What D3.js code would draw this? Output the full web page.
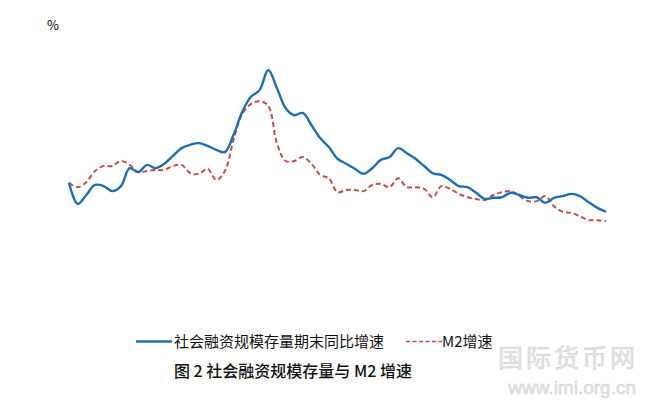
<!DOCTYPE html>
<html>
<head>
<meta charset="utf-8">
<script src="https://cdn.jsdelivr.net/npm/d3@7/dist/d3.min.js"></script>
<style>
  html, body { margin: 0; padding: 0; background: #fff; }
  svg { display: block; }
</style>
</head>
<body>
<svg id="chart" width="645" height="400"></svg>
<script>
// Series values (%), sampled at equal time steps across the chart
const tsfGrowth = [15.1, 11.3, 12.9, 14.7, 14.5, 13.6, 14.5, 17.7, 17.0, 18.3,
  17.7, 18.5, 19.9, 21.3, 21.9, 22.2, 21.7, 21.0, 20.6, 23.7,
  27.8, 30.5, 31.7, 35.3, 32.1, 28.5, 27.2, 27.6, 25.4, 23.1,
  21.5, 19.4, 18.5, 17.6, 16.7, 17.7, 19.2, 19.7, 21.3, 20.4,
  19.4, 18.1, 16.8, 16.5, 15.6, 14.5, 14.3, 13.3, 12.2, 12.4,
  12.5, 13.3, 12.9, 12.4, 12.5, 11.5, 12.4, 12.7, 13.1, 12.7,
  11.6, 10.6, 9.9];
const m2Growth = [15.1, 14.3, 15.2, 17.2, 18.1, 18.1, 19.0, 18.3, 17.0, 17.2,
  17.4, 17.4, 18.1, 18.3, 16.8, 16.7, 17.6, 15.6, 17.2, 22.8,
  27.4, 29.2, 29.7, 28.9, 22.2, 19.0, 19.0, 19.7, 18.5, 16.5,
  15.9, 13.4, 13.8, 13.8, 13.6, 14.7, 14.9, 14.3, 15.9, 14.3,
  14.3, 14.0, 12.5, 14.5, 14.0, 13.1, 12.5, 12.2, 12.0, 12.9,
  13.4, 13.6, 12.7, 11.8, 11.8, 12.7, 10.9, 9.9, 9.7, 9.1,
  8.4, 8.4, 8.2];
const seriesNames = ["社会融资规模存量期末同比增速", "M2增速"];
const seriesColors = ["#1f6fb0", "#c0504d"];
const unitLabel = "%";
const chartTitle = "图 2 社会融资规模存量与 M2 增速";

const svg = d3.select("#chart");
const font = "'Noto Sans CJK SC', 'Noto Sans', sans-serif";

const x = d3.scaleLinear().domain([0, tsfGrowth.length - 1]).range([69, 606]);
const y = d3.scaleLinear().domain([0, 40]).range([267, 43.8]);

const line = d3.line()
  .x((d, i) => x(i))
  .y(d => y(d))
  .curve(d3.curveCatmullRom.alpha(0.5));

// Watermark (behind)
const wm = svg.append("g").attr("fill", "#e6e6e6").attr("stroke", "#d4d4d4").attr("stroke-width", 0.6);
wm.append("text").attr("x", 638).attr("y", 367).attr("text-anchor", "end")
  .attr("font-family", font).attr("font-size", 25).attr("letter-spacing", 3)
  .text("国际货币网");
wm.append("text").attr("x", 636).attr("y", 394).attr("text-anchor", "end")
  .attr("font-family", "'Liberation Sans', Arial, sans-serif").attr("font-size", 19)
  .text("www.imi.org.cn");

// Lines
svg.append("path").datum(m2Growth)
  .attr("fill", "none").attr("stroke", seriesColors[1]).attr("stroke-width", 2)
  .attr("stroke-dasharray", "5,3").attr("d", line);
svg.append("path").datum(tsfGrowth)
  .attr("fill", "none").attr("stroke", seriesColors[0]).attr("stroke-width", 2.4)
  .attr("stroke-linejoin", "round").attr("d", line);

// Unit label
svg.append("text").attr("x", 47).attr("y", 30)
  .attr("font-family", font).attr("font-size", 13).attr("fill", "#000")
  .text(unitLabel);

// Legend
const legend = svg.append("g");
legend.append("line").attr("x1", 136).attr("x2", 172).attr("y1", 341.5).attr("y2", 341.5)
  .attr("stroke", seriesColors[0]).attr("stroke-width", 2.4);
legend.append("text").attr("x", 174).attr("y", 347)
  .attr("font-family", font).attr("font-size", 15).attr("fill", "#111")
  .text(seriesNames[0]);
legend.append("line").attr("x1", 406).attr("x2", 442).attr("y1", 341.5).attr("y2", 341.5)
  .attr("stroke", seriesColors[1]).attr("stroke-width", 1.6).attr("stroke-dasharray", "4,2.5");
legend.append("text").attr("x", 442).attr("y", 347)
  .attr("font-family", font).attr("font-size", 15).attr("fill", "#111")
  .text(seriesNames[1]);

// Title
svg.append("text").attr("x", 174).attr("y", 377)
  .attr("font-family", font).attr("font-size", 16).attr("font-weight", 500).attr("fill", "#111")
  .text(chartTitle);
</script>
</body>
</html>
